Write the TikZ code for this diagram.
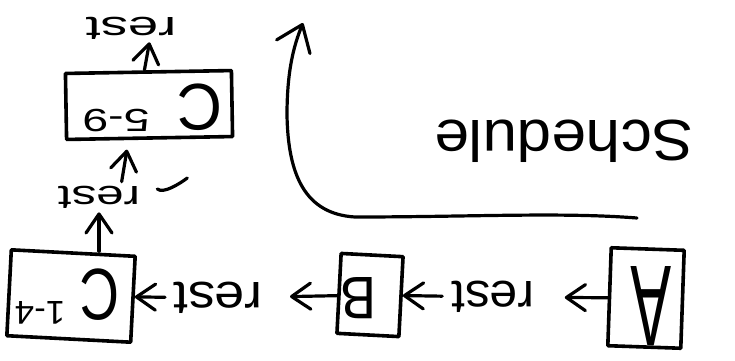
\documentclass[tikz,border=0pt]{standalone}
\usepackage{graphicx}
\usepackage{fontspec}
\setmainfont{Liberation Sans}
\usetikzlibrary{arrows.meta,calc}
% horizontally stretched handwriting-like lettering
\newcommand\xsc[2]{\scalebox{#1}[1]{#2}}
\begin{document}
\begin{tikzpicture}[x=1pt,y=-1pt,
  ink/.style={line width=3.2pt, line cap=round, line join=round},
  boxed/.style={draw, line width=3.6pt, inner sep=0pt, line join=round},
  flip/.style={rotate=180, inner sep=0pt},
  barb/.style={ink, -{Straight Barb[length=19pt,width=26pt,round]}},
  bigbarb/.style={ink, -{Straight Barb[length=24pt,width=36pt,round]}},
]
\useasboundingbox (0,0) rectangle (735,360);

% boxes
\node[boxed, minimum width=73pt, minimum height=98pt, rotate=-2] (a) at (646,298) {};
\node[boxed, minimum width=62pt, minimum height=80pt, rotate=-3] (b) at (370,295) {};
\node[boxed, minimum width=124pt, minimum height=86pt, rotate=-3] (c1) at (71,296) {};
\node[boxed, minimum width=166pt, minimum height=66pt, rotate=1] (c2) at (149,105) {};

% letters inside the boxes (written upside down)
\node[flip, font=\fontsize{115}{115}\selectfont] (la) at (651,306) {\xsc{0.53}{A}};
\node[flip, font=\fontsize{60}{60}\selectfont] (lb) at (358,298) {\xsc{0.9}{B}};
\node[flip, font=\fontsize{73}{73}\selectfont] (lc1) at (100,295) {\xsc{0.75}{C}};
\node[flip, font=\fontsize{33}{33}\selectfont] (lc1n) at (40,313) {\xsc{1.05}{1-4}};
\node[flip, font=\fontsize{66}{66}\selectfont] (lc2) at (200,107) {\xsc{0.95}{C}};
\node[flip, font=\fontsize{32}{32}\selectfont] (lc2n) at (116,121) {\xsc{1.45}{5-9}};

% "rest" labels along the chain
\node[flip, font=\fontsize{48}{48}\selectfont] (r1) at (493,297) {\xsc{1.04}{rest}};
\node[flip, font=\fontsize{48}{48}\selectfont] (r2) at (218,298) {\xsc{1.12}{rest}};
\node[flip, font=\fontsize{34}{34}\selectfont] (r3) at (99,197) {\xsc{1.45}{rest}};
\node[flip, font=\fontsize{34}{34}\selectfont] (r4) at (131,28) {\xsc{1.6}{rest}};

% title
\node[flip, font=\fontsize{58}{58}\selectfont] (title) at (564,141) {\xsc{1.07}{Schedule}};

% chain connectors
\draw[barb, shorten >=30pt] (a) -- (r1);
\draw[barb, shorten <=9pt] (r1) -- (b);
\draw[barb, shorten >=27pt] (b) -- (r2);
\draw[barb, shorten <=8pt] (r2) -- (c1);
\draw[barb, shorten >=4pt] (c1.north -| r3.north) -- (r3.north);
\draw[barb, shorten <=4pt, shorten >=10pt] ([xshift=22pt]r3.south) -- ([xshift=-21pt]c2.south);
\draw[barb, shorten >=3pt] ([xshift=-4pt]c2.north) -- ([xshift=19pt]r4.north);

% tick mark beside the middle label
\draw[ink] ($(r3.west)+(17,-8)$) .. controls +(6,5) and +(-8,6) .. +(30,-11);

% sweeping schedule arrow
\coordinate (flowstart) at (637,218);
\coordinate (flowend) at (303,23);
\draw[bigbarb] (flowstart) .. controls (560,212) and (470,217) .. (355,217)
  .. controls (305,214) and (288,175) .. (287,115)
  .. controls (287,70) and (294,45) .. (flowend);
\end{tikzpicture}
\end{document}
